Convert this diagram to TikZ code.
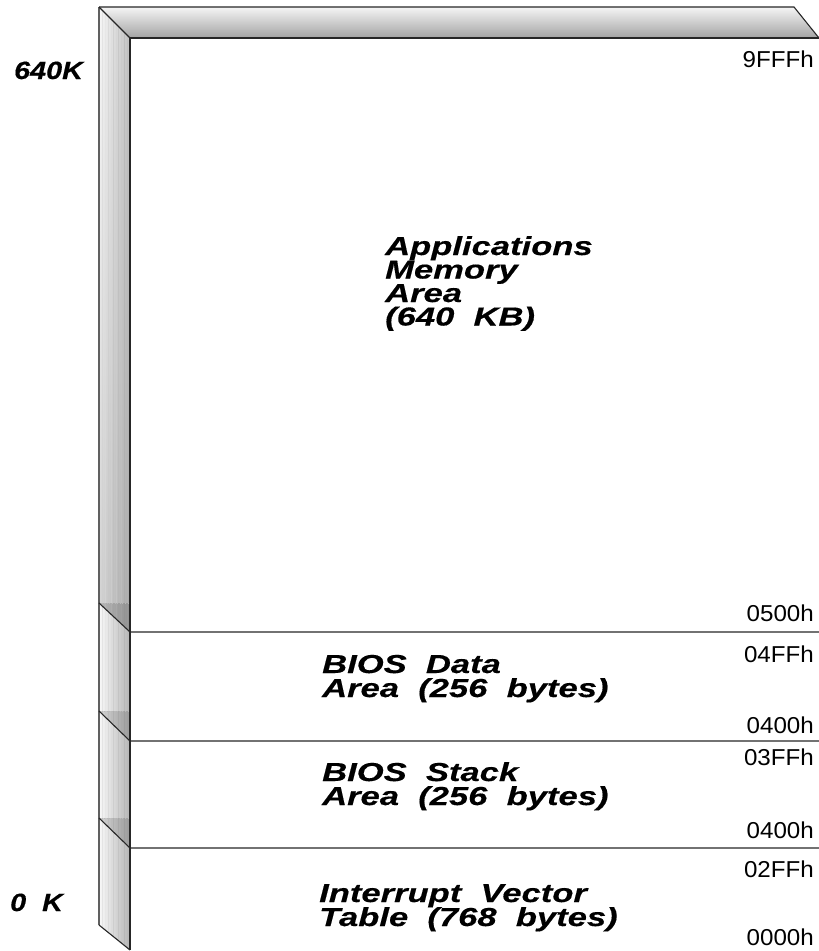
\documentclass[tikz,border=0pt]{standalone}
\usepackage{fontspec}
\usetikzlibrary{shadings}
\setmainfont{Liberation Sans}
\newfontfamily\tagfont[FakeStretch=1.15,FakeBold=0.4]{Liberation Sans}
\newfontfamily\widetagfont[FakeStretch=1.33,FakeBold=0.45]{Liberation Sans}
\newfontfamily\hexfont[FakeStretch=1.05]{Liberation Sans}
\begin{document}
\begin{tikzpicture}[x=1pt,y=-1pt,
  edge/.style={draw=black!85,line width=1.1pt},
  outeredge/.style={draw=gray!75!black,line width=1.3pt},
  seam/.style={draw=gray!55,line width=0.6pt,dotted},
  streak/.style={line width=0.7pt,opacity=0.35},
  block/.style={anchor=base west,inner sep=0pt,
    font=\widetagfont\bfseries\itshape\fontsize{26}{26}\selectfont},
  sidetag/.style={anchor=base west,inner sep=0pt,
    font=\tagfont\bfseries\itshape\fontsize{25}{25}\selectfont},
  addr/.style={anchor=base east,inner sep=0pt,
    font=\hexfont\fontsize{23}{23}\selectfont}]
\useasboundingbox (0,0) rectangle (819,951);

% frame corners
\coordinate (otl) at (99,7);
\coordinate (otr) at (794,7);
\coordinate (itr) at (819,38);
\coordinate (itl) at (130,38);
\coordinate (obl) at (99,925);
\coordinate (ibl) at (130,950);
% block boundaries on the left bar and across the memory area
\coordinate (d1o) at (99,603);  \coordinate (d1i) at (130,632); \coordinate (d1r) at (819,632);
\coordinate (d2o) at (99,711);  \coordinate (d2i) at (130,741); \coordinate (d2r) at (819,741);
\coordinate (d3o) at (99,818);  \coordinate (d3i) at (130,848); \coordinate (d3r) at (819,848);

% shaded faces of the left bar, one per block
\shade[upper left=gray!6,upper right=gray!48,lower left=gray!35,lower right=gray!68]
  (otl) -- (itl) -- (d1i) -- (d1o) -- cycle;
\foreach \a/\b/\c/\d in {d1o/d1i/d2i/d2o,d2o/d2i/d3i/d3o,d3o/d3i/ibl/obl}{
  \shade[left color=gray!5,right color=gray!58] (\a) -- (\b) -- (\c) -- (\d) -- cycle;
}
% vertical brush streaks on the bar
\begin{scope}
  \clip (otl) -- (itl) -- (ibl) -- (obl) -- cycle;
  \foreach \x/\c in {102/40,105/25,108/45,111/30,113/55,116/35,118/60,121/45,124/70,127/55}{
    \draw[streak,gray!\c] (\x,7) -- (\x,951);
  }
\end{scope}
% top bar
\shade[top color=gray!8,bottom color=gray!72] (otl) -- (otr) -- (itr) -- (itl) -- cycle;

% darker wedges above each block seam
\foreach \o/\i in {d1o/d1i,d2o/d2i,d3o/d3i}{
  \fill[black,opacity=0.14] (\o) -- (\o -| itl) -- (\i) -- cycle;
  \draw[seam] (\o) -- (\o -| itl);
}

% outlines
\draw[outeredge] (otl) -- (obl);
\draw[edge] (otl) -- (otr) -- (itr);
\draw[edge] (otl) -- (itl);
\draw[edge] (itr) -- (itl) -- (ibl);
\draw[edge] (obl) -- (ibl);
\draw[edge] (d1o) -- (d1i) -- (d1r);
\draw[edge] (d2o) -- (d2i) -- (d2r);
\draw[edge] (d3o) -- (d3i) -- (d3r);

% side marks
\node[sidetag] (k640) at (14,79) {640K};
\node[sidetag] (k0) at (10,911) {0~~K};

% region names
\node[block] (app1) at (385,255) {Applications};
\node[block] (app2) at (385,278.5) {Memory};
\node[block] (app3) at (385,302) {Area};
\node[block] (app4) at (385,325.5) {(640~~KB)};

\node[block] (bd1) at (322,673) {BIOS~~Data};
\node[block] (bd2) at (322,697) {Area~~(256~~bytes)};

\node[block] (bs1) at (322,781) {BIOS~~Stack};
\node[block] (bs2) at (322,805) {Area~~(256~~bytes)};

\node[block] (iv1) at (319,902) {Interrupt~~Vector};
\node[block] (iv2) at (319,926) {Table~~(768~~bytes)};

% addresses
\node[addr] (a1) at (814,67)  {9FFFh};
\node[addr] (a2) at (814,621) {0500h};
\node[addr] (a3) at (814,662) {04FFh};
\node[addr] (a4) at (814,733) {0400h};
\node[addr] (a5) at (814,765) {03FFh};
\node[addr] (a6) at (814,838) {0400h};
\node[addr] (a7) at (814,877) {02FFh};
\node[addr] (a8) at (814,945) {0000h};
\end{tikzpicture}
\end{document}
